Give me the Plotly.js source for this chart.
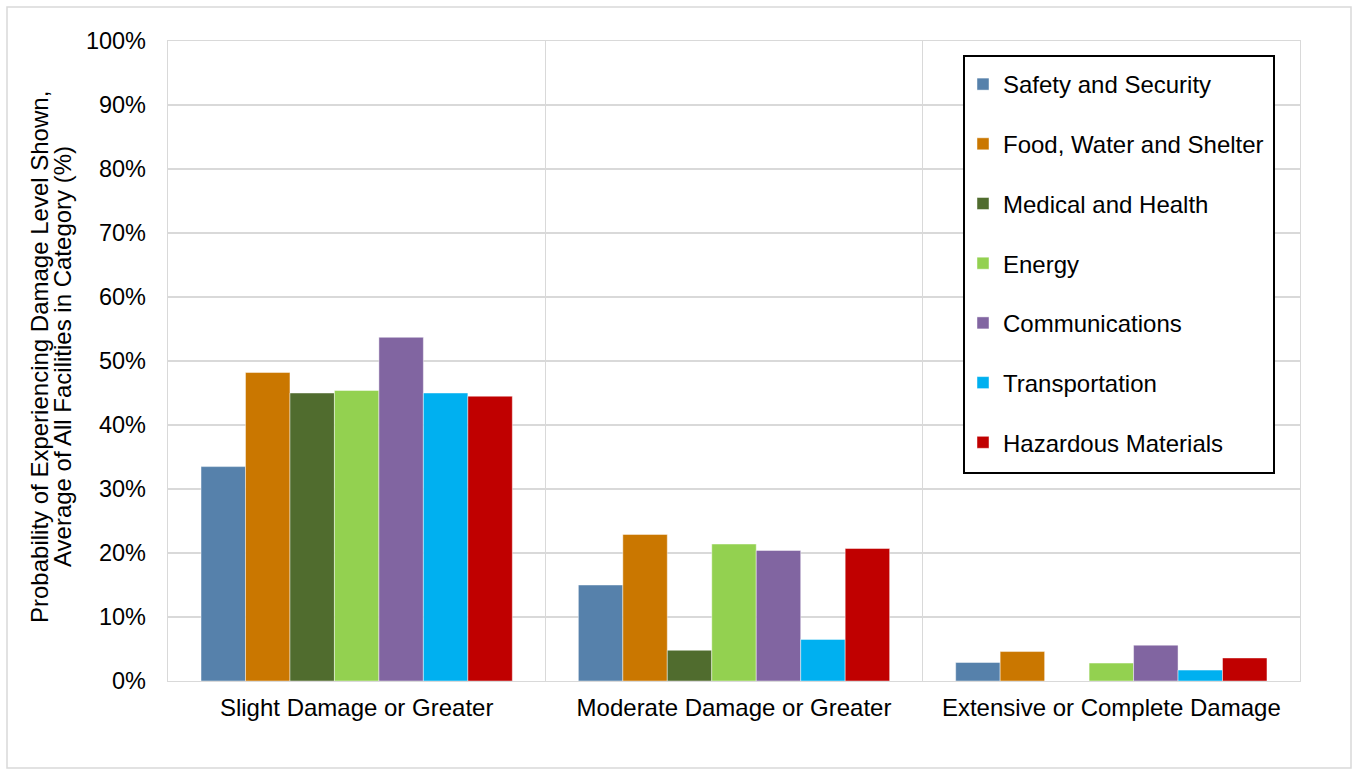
<!DOCTYPE html>
<html>
<head>
<meta charset="utf-8">
<script src="https://cdn.plot.ly/plotly-3.0.1.min.js"></script>
<style>
  html, body { margin: 0; padding: 0; background: #ffffff; }
  #chart { width: 1354px; height: 770px; }
</style>
</head>
<body>
<div id="chart"></div>
<script>
const categories = ["Slight Damage or Greater", "Moderate Damage or Greater", "Extensive or Complete Damage"];

const seriesNames = [
  "Safety and Security",
  "Food, Water and Shelter",
  "Medical and Health",
  "Energy",
  "Communications",
  "Transportation",
  "Hazardous Materials"
];

const safetySecurity     = [33.5, 15.0, 2.9];
const foodWaterShelter   = [48.2, 22.9, 4.6];
const medicalHealth      = [45.0, 4.8, 0];
const energy             = [45.4, 21.4, 2.8];
const communications     = [53.7, 20.4, 5.6];
const transportation     = [45.0, 6.5, 1.7];
const hazardousMaterials = [44.5, 20.7, 3.6];

const seriesValues = [safetySecurity, foodWaterShelter, medicalHealth, energy, communications, transportation, hazardousMaterials];

const seriesColors = ["#5681AB", "#CA7700", "#506C2E", "#93D150", "#8165A1", "#00B0F0", "#C00000"];

const yTickValues = [0, 10, 20, 30, 40, 50, 60, 70, 80, 90, 100];
const yTickLabels = ["0%", "10%", "20%", "30%", "40%", "50%", "60%", "70%", "80%", "90%", "100%"];

const yTitleLines = [
  "Probability of Experiencing Damage Level Shown,",
  "Average of All Facilities in Category (%)"
];

const FONT = "Liberation Sans, Arial, sans-serif";

const traces = seriesNames.map((name, i) => ({
  type: "bar",
  name: name,
  x: categories,
  y: seriesValues[i],
  legendgroup: "g" + i,
  marker: { color: seriesColors[i], line: { color: "rgba(255,255,255,0.45)", width: 1 } },
  hoverinfo: "name+y"
}));

// pixel helpers for paper coordinates
const L = 168, R = 1300, T = 41, B = 681;
const px = v => (v - L) / (R - L);
const py = v => (B - v) / (B - T);

const layout = {
  width: 1354,
  height: 770,
  margin: { l: L, r: 1354 - R, t: T, b: 770 - B, pad: 0 },
  paper_bgcolor: "#ffffff",
  plot_bgcolor: "#ffffff",
  font: { family: FONT, size: 24, color: "#000000" },
  barmode: "group",
  bargap: 0.175,
  bargroupgap: 0,
  showlegend: true,
  legend: {
    x: px(963), y: py(62), xanchor: "left", yanchor: "top",
    bgcolor: "rgba(0,0,0,0)",
    borderwidth: 0,
    font: { family: FONT, size: 24, color: "#000000" },
    traceorder: "grouped",
    tracegroupgap: 25.5,
    itemclick: false
  },
  xaxis: {
    type: "category",
    tickson: "boundaries",
    showgrid: true,
    gridcolor: "#d9d9d9",
    gridwidth: 1.3,
    showline: true,
    linecolor: "#d9d9d9",
    linewidth: 1.3,
    mirror: true,
    ticks: "",
    ticklabelstandoff: 5,
    tickfont: { family: FONT, size: 24, color: "#000000" },
    zeroline: false
  },
  yaxis: {
    range: [0, 100],
    tickvals: yTickValues,
    ticktext: yTickLabels,
    showgrid: true,
    gridcolor: "#d9d9d9",
    gridwidth: 1.3,
    showline: true,
    linecolor: "#d9d9d9",
    linewidth: 1.3,
    mirror: true,
    ticks: "",
    zeroline: false,
    ticklabelstandoff: 16,
    tickfont: { family: FONT, size: 23.5, color: "#000000" },
    automargin: false
  },
  annotations: [
    {
      text: yTitleLines[0], xref: "paper", yref: "paper",
      x: px(39), y: py(357), xanchor: "center", yanchor: "middle",
      textangle: -90, showarrow: false,
      font: { family: FONT, size: 24, color: "#000000" }
    },
    {
      text: yTitleLines[1], xref: "paper", yref: "paper",
      x: px(62), y: py(357), xanchor: "center", yanchor: "middle",
      textangle: -90, showarrow: false,
      font: { family: FONT, size: 24, color: "#000000" }
    }
  ],
  shapes: [
    {
      type: "rect", xref: "paper", yref: "paper", layer: "below",
      x0: px(7), x1: px(1351), y0: py(768), y1: py(7),
      line: { color: "#d9d9d9", width: 1.5 },
      fillcolor: "rgba(0,0,0,0)"
    },
    {
      type: "rect", xref: "paper", yref: "paper", layer: "above",
      x0: px(964), x1: px(1274), y0: py(473), y1: py(56),
      line: { color: "#000000", width: 2 },
      fillcolor: "#ffffff"
    }
  ]
};

Plotly.newPlot("chart", traces, layout, { displayModeBar: false, staticPlot: true });
</script>
</body>
</html>
